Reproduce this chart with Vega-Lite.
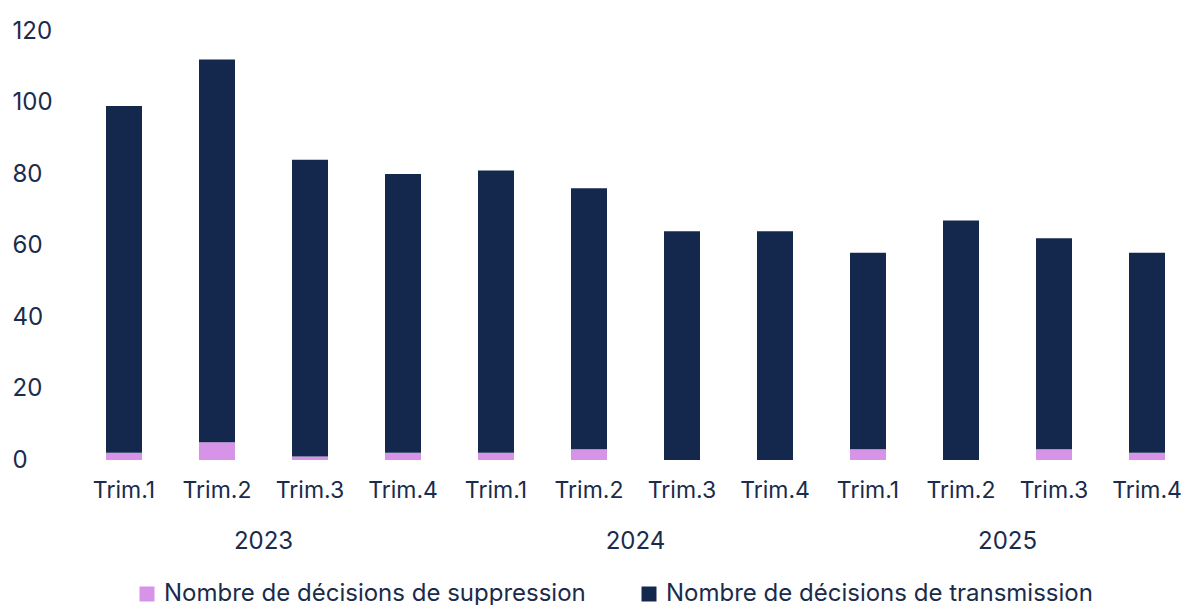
{
  "$schema": "https://vega.github.io/schema/vega-lite/v6.json",
  "background": "white",
  "padding": {"left": 12, "top": 19, "right": 0, "bottom": 0},
  "data": {
    "values": [
      {"year": "2023", "trim": "Trim.1", "type": "Nombre de décisions de suppression", "value": 2},
      {"year": "2023", "trim": "Trim.1", "type": "Nombre de décisions de transmission", "value": 97},
      {"year": "2023", "trim": "Trim.2", "type": "Nombre de décisions de suppression", "value": 5},
      {"year": "2023", "trim": "Trim.2", "type": "Nombre de décisions de transmission", "value": 107},
      {"year": "2023", "trim": "Trim.3", "type": "Nombre de décisions de suppression", "value": 1},
      {"year": "2023", "trim": "Trim.3", "type": "Nombre de décisions de transmission", "value": 83},
      {"year": "2023", "trim": "Trim.4", "type": "Nombre de décisions de suppression", "value": 2},
      {"year": "2023", "trim": "Trim.4", "type": "Nombre de décisions de transmission", "value": 78},
      {"year": "2024", "trim": "Trim.1", "type": "Nombre de décisions de suppression", "value": 2},
      {"year": "2024", "trim": "Trim.1", "type": "Nombre de décisions de transmission", "value": 79},
      {"year": "2024", "trim": "Trim.2", "type": "Nombre de décisions de suppression", "value": 3},
      {"year": "2024", "trim": "Trim.2", "type": "Nombre de décisions de transmission", "value": 73},
      {"year": "2024", "trim": "Trim.3", "type": "Nombre de décisions de suppression", "value": 0},
      {"year": "2024", "trim": "Trim.3", "type": "Nombre de décisions de transmission", "value": 64},
      {"year": "2024", "trim": "Trim.4", "type": "Nombre de décisions de suppression", "value": 0},
      {"year": "2024", "trim": "Trim.4", "type": "Nombre de décisions de transmission", "value": 64},
      {"year": "2025", "trim": "Trim.1", "type": "Nombre de décisions de suppression", "value": 3},
      {"year": "2025", "trim": "Trim.1", "type": "Nombre de décisions de transmission", "value": 55},
      {"year": "2025", "trim": "Trim.2", "type": "Nombre de décisions de suppression", "value": 0},
      {"year": "2025", "trim": "Trim.2", "type": "Nombre de décisions de transmission", "value": 67},
      {"year": "2025", "trim": "Trim.3", "type": "Nombre de décisions de suppression", "value": 3},
      {"year": "2025", "trim": "Trim.3", "type": "Nombre de décisions de transmission", "value": 59},
      {"year": "2025", "trim": "Trim.4", "type": "Nombre de décisions de suppression", "value": 2},
      {"year": "2025", "trim": "Trim.4", "type": "Nombre de décisions de transmission", "value": 56}
    ]
  },
  "facet": {
    "column": {
      "field": "year",
      "type": "ordinal",
      "header": {
        "title": null,
        "labelOrient": "bottom",
        "labelFont": "Inter",
        "labelFontSize": 24,
        "labelColor": "#1a2b4c",
        "labelPadding": 28
      }
    }
  },
  "spacing": 57,
  "spec": {
    "width": 315,
    "height": 429,
    "mark": {"type": "bar"},
    "encoding": {
      "x": {
        "field": "trim",
        "type": "nominal",
        "scale": {"paddingInner": 0.613, "paddingOuter": 0},
        "axis": {
          "title": null,
          "labelAngle": 0,
          "ticks": false,
          "domain": false,
          "labelPadding": 19,
          "labelFontSize": 23
        }
      },
      "y": {
        "field": "value",
        "type": "quantitative",
        "stack": "zero",
        "scale": {"domain": [0, 120]},
        "axis": {
          "title": null,
          "grid": false,
          "domain": false,
          "ticks": false,
          "values": [0, 20, 40, 60, 80, 100, 120],
          "labelAlign": "left",
          "labelPadding": 94,
          "labelFontSize": 24
        }
      },
      "order": {"field": "type", "sort": "ascending"},
      "color": {
        "field": "type",
        "type": "nominal",
        "scale": {
          "domain": ["Nombre de décisions de suppression", "Nombre de décisions de transmission"],
          "range": ["#d693e8", "#14284e"]
        },
        "legend": {
          "title": null,
          "orient": "none",
          "legendX": 29,
          "legendY": 551,
          "direction": "horizontal",
          "symbolType": "square",
          "symbolSize": 225,
          "symbolStrokeWidth": 0,
          "labelFontSize": 24,
          "labelLimit": 0,
          "labelOffset": 5,
          "columnPadding": 51
        }
      }
    }
  },
  "config": {
    "font": "Inter",
    "view": {"stroke": null},
    "axis": {"labelColor": "#1a2b4c", "labelFont": "Inter"},
    "legend": {"labelColor": "#1a2b4c", "labelFont": "Inter"}
  }
}
